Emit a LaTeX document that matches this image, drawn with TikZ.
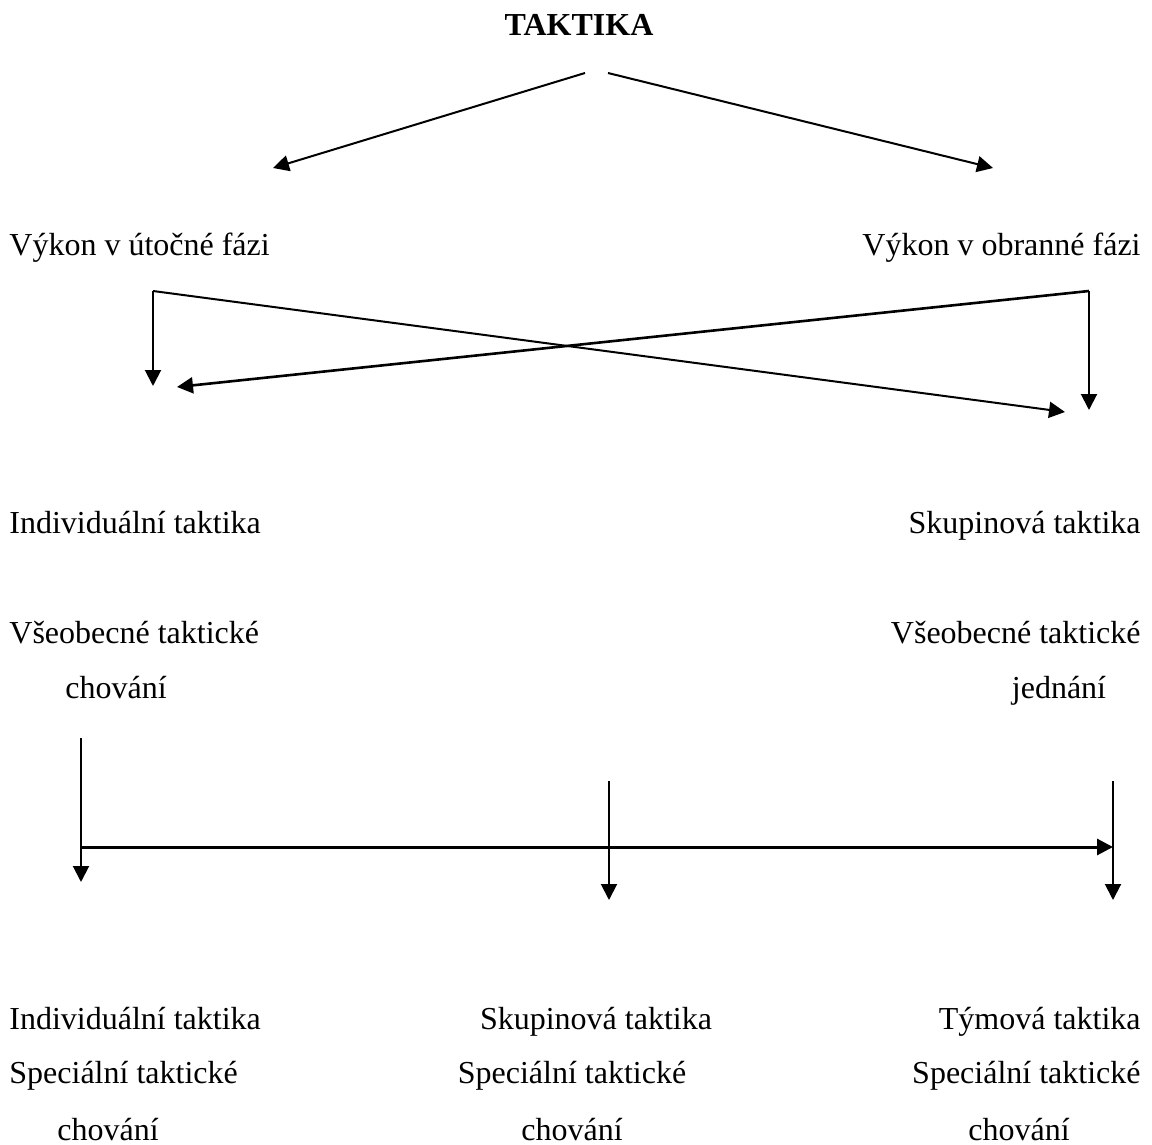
\documentclass[tikz,border=0pt]{standalone}
\usepackage{fontspec}
\setmainfont{Liberation Serif}
\usetikzlibrary{arrows.meta}
\tikzset{
  lbl/.style={inner sep=0pt, font=\fontsize{16pt}{19pt}\selectfont},
  conn/.style={line width=1pt, -{Triangle[length=8pt,width=8pt]}},
}
\begin{document}
\begin{tikzpicture}[x=0.5pt,y=-0.5pt]
\useasboundingbox (0,0) rectangle (1152,1145);
% texts
\node[lbl, anchor=base, font=\fontsize{16pt}{19pt}\selectfont\bfseries] (tak) at (579,36) {TAKTIKA};
\node[lbl, anchor=base west] (uto) at (9,256) {Výkon v útočné fázi};
\node[lbl, anchor=base east] (obr) at (1141,256) {Výkon v obranné fázi};
\node[lbl, anchor=base west] (ind1) at (9,533) {Individuální taktika};
\node[lbl, anchor=base east] (sku1) at (1141,533) {Skupinová taktika};
\node[lbl, anchor=base west] (vse1) at (9,643) {Všeobecné taktické};
\node[lbl, anchor=base west] (cho1) at (65,698) {chování};
\node[lbl, anchor=base east] (vse2) at (1141,643) {Všeobecné taktické};
\node[lbl, anchor=base] (jed) at (1059,698) {jednání};
\node[lbl, anchor=base west] (ind2) at (9,1029) {Individuální taktika};
\node[lbl, anchor=base] (sku2) at (596,1029) {Skupinová taktika};
\node[lbl, anchor=base east] (tym) at (1141,1029) {Týmová taktika};
\node[lbl, anchor=base west] (spe1) at (9,1083) {Speciální taktické};
\node[lbl, anchor=base] (spe2) at (572,1083) {Speciální taktické};
\node[lbl, anchor=base east] (spe3) at (1141,1083) {Speciální taktické};
\node[lbl, anchor=base] (cho2) at (108,1140) {chování};
\node[lbl, anchor=base] (cho3) at (572,1140) {chování};
\node[lbl, anchor=base] (cho4) at (1019,1140) {chování};
% coordinates
\coordinate (t1) at (585,73);
\coordinate (t2) at (608,73);
\coordinate (a1) at (273,168);
\coordinate (a2) at (993,168);
\coordinate (lc) at (153,291);
\coordinate (rc) at (1089,291);
\coordinate (ld) at (153,386);
\coordinate (rd) at (1089,410);
\coordinate (lx) at (177,387);
\coordinate (rx) at (1065,412);
\coordinate (v1) at (81,738);
\coordinate (v1b) at (81,882);
\coordinate (v2) at (609,781);
\coordinate (v2b) at (609,900);
\coordinate (v3) at (1113,781);
\coordinate (v3b) at (1113,900);
\coordinate (h1) at (81,847);
\coordinate (h2) at (1113,847);
% connectors
\draw[conn] (t1) -- (a1);
\draw[conn] (t2) -- (a2);
\draw[conn] (lc) -- (ld);
\draw[conn] (lc) -- (rx);
\draw[conn] (rc) -- (rd);
\draw[conn, line width=1.3pt] (rc) -- (lx);
\draw[conn] (v1) -- (v1b);
\draw[conn] (v2) -- (v2b);
\draw[conn] (v3) -- (v3b);
\draw[conn, line width=1.5pt] (h1) -- (h2);
\end{tikzpicture}
\end{document}
